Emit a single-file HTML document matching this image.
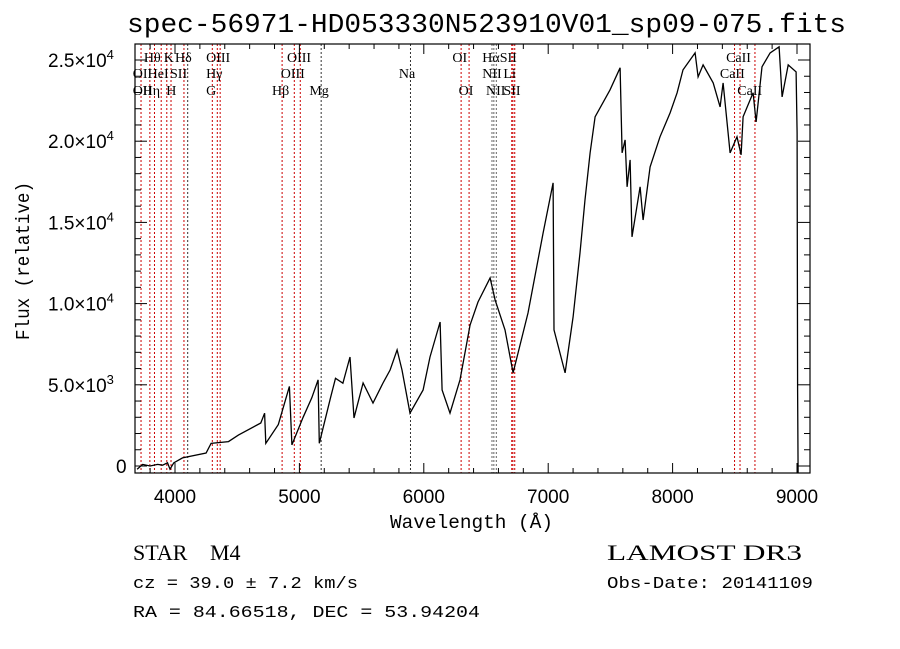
<!DOCTYPE html>
<html><head><meta charset="utf-8"><style>
html,body{margin:0;padding:0;background:#fff;}
svg{display:block;}
.serif{font-family:"Liberation Serif",serif;}
.mono{font-family:"Liberation Mono",monospace;}
.sans{font-family:"Liberation Sans",sans-serif;}
</style></head><body>
<svg id="chart" width="900" height="649" viewBox="0 0 900 649" xmlns="http://www.w3.org/2000/svg">
<rect x="0" y="0" width="900" height="649" fill="#fff"/>
<text class="mono" x="127" y="32" font-size="27" textLength="719" lengthAdjust="spacingAndGlyphs">spec-56971-HD053330N523910V01_sp09-075.fits</text>
<g id="lines"></g>
<g id="labels" class="serif" font-size="14"></g>
<path id="spec" fill="none" stroke="#000" stroke-width="1.3"/>
<rect x="135" y="44" width="675" height="429" fill="none" stroke="#000" stroke-width="1.2"/>
<g id="ticks" stroke="#000" stroke-width="1"></g>
<g id="xlabels" class="sans" font-size="19" text-anchor="middle"></g>
<g id="ylabels" class="sans" font-size="19"></g>
<text class="mono" x="390" y="528" font-size="19" textLength="163" lengthAdjust="spacingAndGlyphs">Wavelength (Å)</text>
<text class="mono" transform="translate(29,340) rotate(-90)" font-size="19" textLength="158" lengthAdjust="spacingAndGlyphs">Flux (relative)</text>
<text class="serif" x="133" y="560" font-size="22">STAR</text>
<text class="serif" x="210" y="560" font-size="22">M4</text>
<text class="mono" x="133" y="588" font-size="17" textLength="225" lengthAdjust="spacingAndGlyphs">cz = 39.0 ± 7.2 km/s</text>
<text class="mono" x="133" y="617" font-size="17" textLength="347" lengthAdjust="spacingAndGlyphs">RA =  84.66518, DEC =  53.94204</text>
<text class="serif" x="607" y="560" font-size="22" textLength="195" lengthAdjust="spacingAndGlyphs">LAMOST DR3</text>
<text class="mono" x="607" y="588" font-size="17" textLength="206" lengthAdjust="spacingAndGlyphs">Obs-Date: 20141109</text>
</svg>
<script>
const wavelengths=[3695,3740,3800,3860,3900,3940,3960,3990,4060,4250,4290,4430,4510,4690,4720,4730,4830,4920,4940,5030,5100,5150,5160,5250,5290,5350,5407,5439,5512,5592,5672,5729,5785,5825,5889,5994,6050,6131,6147,6211,6291,6372,6436,6533,6573,6653,6718,6838,6959,7039,7047,7136,7200,7256,7296,7337,7377,7497,7578,7594,7618,7634,7658,7674,7739,7763,7819,7899,7980,8036,8084,8181,8205,8245,8326,8382,8406,8462,8518,8551,8567,8647,8671,8719,8784,8856,8880,8929,8993,9001,9005,9009];
const fluxes=[-200,100,0,100,50,200,-200,200,500,800,1400,1500,1900,2650,3250,1400,2550,4900,1300,3000,4200,5300,1400,4200,5400,5100,6710,2960,5110,3880,5110,5910,7150,5910,3260,4680,6710,8870,4680,3260,5300,8690,10100,11580,10230,8380,5730,9420,14350,17430,8380,5730,9180,13120,16390,19280,21500,23160,24520,19280,20080,17190,18850,14110,17190,15150,18420,20270,21740,22980,24390,25440,23960,24700,23590,22110,23590,19280,20270,19160,21500,22980,21190,24580,25440,25810,22730,24700,24270,20510,4680,-400];
const lineWaves=[3727,3798,3835,3889,3934,3968,4072,4102,4300,4340,4363,4861,4959,5007,5175,5893,6300,6364,6548,6563,6583,6707,6716,6731,8498,8542,8662];
const lineColors=["#c00","#c00","#c00","#c00","#c00","#c00","#c00","#333","#c00","#c00","#c00","#c00","#c00","#c00","#333","#333","#c00","#c00","#666","#666","#666","#c00","#c00","#c00","#c00","#c00","#c00"];
const labelTexts=["Hθ","K","Hδ","OIII","OIII","OI","HαSII","CaII","OII","HeI","SII","Hγ","OIII","Na","NII","Li","CaII","OII","Hη","H","G","Hβ","Mg","OI","NII","SII","CaII"];
const labelWaves=[3750,3910,4000,4250,4900,6230,6470,8430,3660,3780,3960,4250,4850,5800,6470,6640,8380,3660,3740,3930,4250,4780,5080,6280,6500,6640,8520];
const labelRows=[0,0,0,0,0,0,0,0,1,1,1,1,1,1,1,1,1,2,2,2,2,2,2,2,2,2,2];
const xTicks=[4000,5000,6000,7000,8000,9000];
const yTickMant=["0","5.0","1.0","1.5","2.0","2.5"];
const yTickExp=["","3","4","4","4","4"];
const yTickVals=[0,5000,10000,15000,20000,25000];

const X0=135,X1=810,Y0=44,Y1=473;
const xs=w=>175+(w-4000)*0.1244;
const ys=f=>466-f*406/25000;
const NS="http://www.w3.org/2000/svg";
function mk(tag,parent,attrs){const e=document.createElementNS(NS,tag);for(const k in attrs)e.setAttribute(k,attrs[k]);parent.appendChild(e);return e;}

let d="";
for(let i=0;i<wavelengths.length;i++){let y=Math.min(Math.max(ys(fluxes[i]),Y0),Y1);d+=(i?"L":"M")+xs(wavelengths[i]).toFixed(1)+" "+y.toFixed(1);}
document.getElementById("spec").setAttribute("d",d);

const lg=document.getElementById("lines");
for(let i=0;i<lineWaves.length;i++){
 const l=mk("line",lg,{x1:xs(lineWaves[i]),x2:xs(lineWaves[i]),y1:Y0,y2:Y1,stroke:lineColors[i],"stroke-width":1,"stroke-dasharray":"2,2"});
 
 
}
const lb=document.getElementById("labels");
const rowY=[62,78,95];
for(let i=0;i<labelTexts.length;i++){
 const t=mk("text",lb,{x:xs(labelWaves[i]),y:rowY[labelRows[i]]});
 t.textContent=labelTexts[i];
 
 
}
const tg=document.getElementById("ticks");
for(let w=3800;w<=9100;w+=200){
 const x=xs(w);if(x<X0||x>X1)continue;
 const big=w%1000===0;const L=big?10:5;
 mk("line",tg,{x1:x,x2:x,y1:Y1,y2:Y1-L});
 mk("line",tg,{x1:x,x2:x,y1:Y0,y2:Y0+L});
}
for(let f=0;f<=26000;f+=1000){
 const y=ys(f);if(y<Y0)continue;
 const big=f%5000===0;const L=big?12:6;
 mk("line",tg,{x1:X0,x2:X0+L,y1:y,y2:y});
 mk("line",tg,{x1:X1,x2:X1-L,y1:y,y2:y});
}
const xl=document.getElementById("xlabels");
xTicks.forEach(w=>{
 const t=mk("text",xl,{x:xs(w),y:503});t.textContent=w;
 
 
});
const yl=document.getElementById("ylabels");
for(let i=0;i<yTickVals.length;i++){
 const y=ys(yTickVals[i])+7;
 if(yTickExp[i]){
  const t=mk("text",yl,{x:48,y:y});
  
  
  const a=mk("tspan",t,{});a.textContent=yTickMant[i]+"×10";
  const s=mk("tspan",t,{dy:-8,"font-size":13});s.textContent=yTickExp[i];
 } else {
  const t=mk("text",yl,{x:116,y:y});
  
  
  t.textContent=yTickMant[i];
 }
}
</script>
</body></html>
